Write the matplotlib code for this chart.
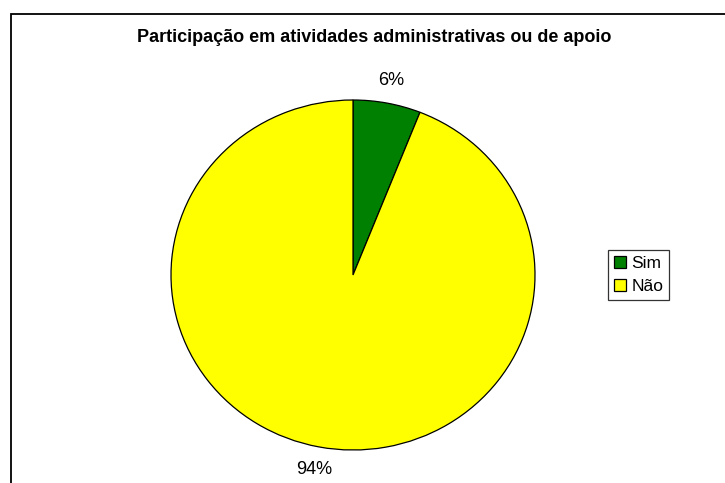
import matplotlib
matplotlib.use('Agg')
import matplotlib.pyplot as plt
from matplotlib.patches import Rectangle

plt.rcParams['font.family'] = ['Liberation Sans', 'DejaVu Sans']

titulo = 'Participação em atividades administrativas ou de apoio'
categorias = ['Sim', 'Não']
valores = [6, 94]
cores = ['#008000', '#FFFF00']

W, H = 725, 483
fig = plt.figure(figsize=(W / 100, H / 100), dpi=100)

# moldura externa (cortada à direita e embaixo)
fig.patches.append(Rectangle((11 / W, -0.1), 1.1, 1 - 14 / H + 0.1, transform=fig.transFigure,
                             fill=False, edgecolor='black', linewidth=1.3, clip_on=False))

fig.text(374 / W, 1 - 37 / H, titulo, ha='center', va='center', fontsize=13, fontweight='bold')

cx, cy, rx, ry = 353, 275, 182, 175
ax = fig.add_axes([(cx - rx) / W, 1 - (cy + ry) / H, 2 * rx / W, 2 * ry / H])
wedges, texts, autotexts = ax.pie(valores, colors=cores, startangle=90, counterclock=False,
                                  autopct='%1.0f%%', pctdistance=1.13,
                                  wedgeprops=dict(edgecolor='black', linewidth=0.9),
                                  textprops=dict(fontsize=13))
for w in wedges:
    w.set_clip_on(False)
ax.set_xlim(-1, 1)
ax.set_ylim(-1, 1)
ax.set_aspect('auto')
ax.axis('off')

leg = fig.legend(wedges, categorias, loc='center', bbox_to_anchor=(638.5 / W, 1 - 275 / H),
                 fontsize=12.5, frameon=True, fancybox=False, edgecolor='black',
                 handlelength=0.7, handleheight=0.7, handletextpad=0.3, labelspacing=0.45,
                 borderpad=0.35, borderaxespad=0)
leg.get_frame().set_linewidth(0.9)

fig.savefig('out.png', dpi=100)
